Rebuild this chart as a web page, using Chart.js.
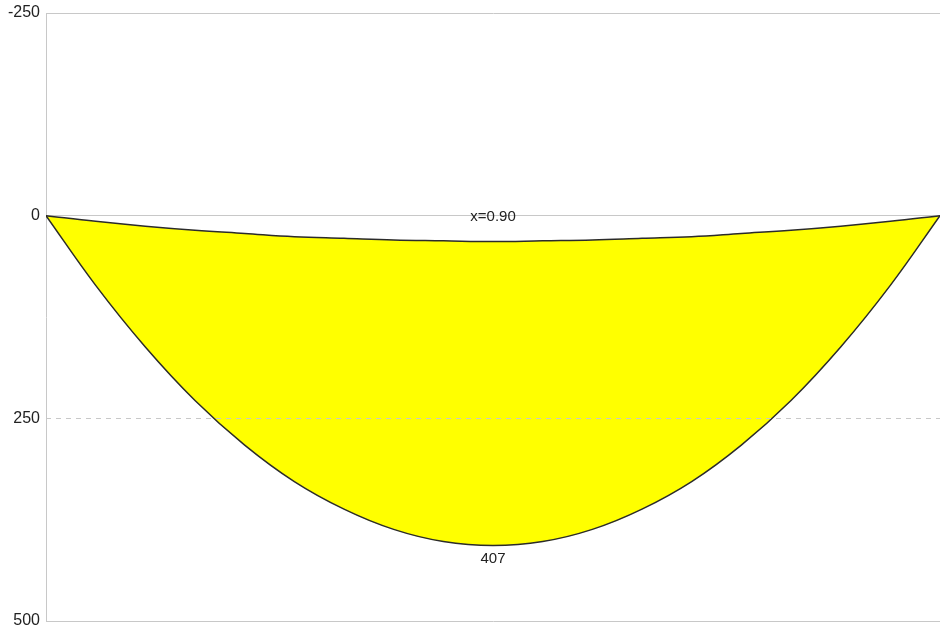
<!DOCTYPE html>
<html>
<head>
<meta charset="utf-8">
<script src="https://cdn.jsdelivr.net/npm/chart.js@4.4.1/dist/chart.umd.min.js"></script>
<style>
	html, body { margin: 0; padding: 0; background: #fff; }
	#wrap { width: 941px; height: 628px; }
</style>
</head>
<body>
<div id="wrap"><canvas id="diagram"></canvas></div>
<script>
// positions along the span (m)
var positions = [0, 0.1, 0.2, 0.3, 0.4, 0.5, 0.6, 0.7, 0.8, 0.9, 1.0, 1.1, 1.2, 1.3, 1.4, 1.5, 1.6, 1.7, 1.8];
// upper outline, small sag
var upperLine = [0, 7, 13, 18, 22, 26, 28, 30, 31, 32, 31, 30, 28, 26, 22, 18, 13, 7, 0];
// lower outline, peak 407 at mid span
var lowerLine = [0, 86, 162, 228, 283, 328, 362, 387, 402, 407, 402, 387, 362, 328, 283, 228, 162, 86, 0];
var yTicks = [-250, 0, 250, 500];
var dashedTick = 250;

function toPoints(vals) {
	var pts = [];
	for (var i in positions) {
		pts.push({ x: positions[i], y: vals[i] });
	}
	return pts;
}

var labelPlugin = {
	id: 'labels',
	afterDatasetsDraw: function (chart) {
		var ctx = chart.ctx;
		var xs = chart.scales.x;
		var ys = chart.scales.y;
		var area = chart.chartArea;

		// dashed grid line
		ctx.save();
		ctx.strokeStyle = '#c8c8c8';
		ctx.lineWidth = 1;
		ctx.setLineDash([5, 5]);
		var yd = Math.round(ys.getPixelForValue(dashedTick)) + 0.5;
		ctx.beginPath();
		ctx.moveTo(area.left, yd);
		ctx.lineTo(area.right, yd);
		ctx.stroke();
		ctx.restore();

		// max value label
		var iMax = 0;
		for (var i in lowerLine) {
			if (lowerLine[i] > lowerLine[iMax]) iMax = i;
		}
		var px = xs.getPixelForValue(positions[iMax]);
		ctx.save();
		ctx.fillStyle = '#222';
		ctx.font = '15px "Liberation Sans", Arial, sans-serif';
		ctx.textAlign = 'center';
		ctx.textBaseline = 'middle';
		ctx.fillText(String(lowerLine[iMax]), px, ys.getPixelForValue(lowerLine[iMax]) + 13);
		ctx.fillText('x=' + positions[iMax].toFixed(2), px, ys.getPixelForValue(0) + 1);
		ctx.restore();
	}
};

var ctx = document.getElementById('diagram').getContext('2d');
new Chart(ctx, {
	type: 'line',
	data: {
		datasets: [
			{
				label: 'upper',
				data: toPoints(upperLine),
				borderColor: '#2b2b2b',
				borderWidth: 1.5,
				fill: false,
				pointRadius: 0,
				tension: 0.4
			},
			{
				label: 'lower',
				data: toPoints(lowerLine),
				borderColor: '#2b2b2b',
				borderWidth: 1.5,
				backgroundColor: '#ffff00',
				fill: '-1',
				pointRadius: 0,
				tension: 0.4
			}
		]
	},
	options: {
		responsive: true,
		maintainAspectRatio: false,
		animation: false,
		layout: { padding: { top: 13, bottom: 7, right: 1, left: 0 } },
		plugins: {
			legend: { display: false },
			tooltip: { enabled: false }
		},
		scales: {
			x: {
				type: 'linear',
				min: 0,
				max: 1.8,
				display: false
			},
			y: {
				reverse: true,
				min: -250,
				max: 500,
				afterBuildTicks: function (axis) {
					axis.ticks = yTicks.map(function (v) { return { value: v }; });
				},
				afterFit: function (axis) {
					axis.width = 46;
					axis.paddingTop = 0;
					axis.paddingBottom = 0;
				},
				grid: {
					drawTicks: false,
					color: function (c) {
						return c.tick && c.tick.value === dashedTick ? 'rgba(0,0,0,0)' : '#c8c8c8';
					},
					lineWidth: 1
				},
				border: { display: true, color: '#c8c8c8', width: 1 },
				ticks: {
					padding: 6,
					color: '#222',
					font: { family: '"Liberation Sans", Arial, sans-serif', size: 16 }
				}
			}
		}
	},
	plugins: [labelPlugin]
});
</script>
</body>
</html>
